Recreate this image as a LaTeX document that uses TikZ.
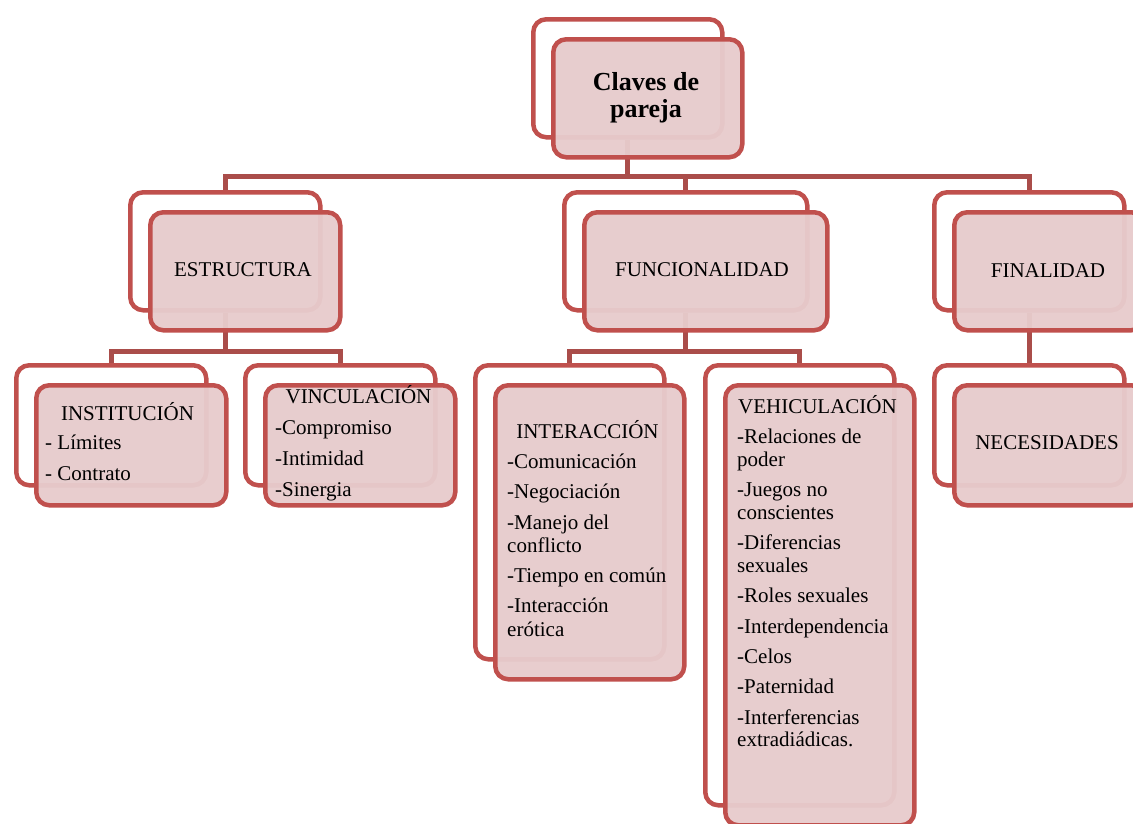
\documentclass[tikz,border=0pt]{standalone}
\usepackage{fontspec}
\setmainfont{Liberation Serif}
\usetikzlibrary{calc}
\pgfdeclarelayer{bg}
\pgfsetlayers{bg,main}
\definecolor{bord}{HTML}{C0504D}
\definecolor{connc}{HTML}{AA4D4A}
\definecolor{pinkf}{HTML}{E7CBCC}
\tikzset{
  backbox/.style={draw=bord, line width=4.5pt, rounded corners=13pt, fill=white, anchor=north west, inner sep=0pt},
  frontbox/.style={draw=bord, line width=4.5pt, rounded corners=13pt, fill=pinkf, fill opacity=0.96, anchor=north west, inner sep=0pt},
  conn/.style={draw=connc, line width=5pt},
  txt/.style={font=\fontsize{21}{23}\selectfont, inner sep=0pt, text=black},
  ttlf/.style={font=\fontsize{26}{28}\selectfont\bfseries, inner sep=0pt, text=black}
}
\newcommand\pairbox[5]{%
  \node[backbox, minimum width=#4pt, minimum height=#5pt] (#1b) at (#2,#3) {};
  \node[frontbox, minimum width=#4pt, minimum height=#5pt] (#1) at ({#2+20},{#3+20}) {};}
\newcommand\tline[4]{\node[txt, anchor=base west] (#1) at (#2,#3) {#4};}
\newcommand\tcent[4]{\node[txt, anchor=base] (#1) at (#2,#3) {#4};}
\begin{document}
\begin{tikzpicture}[x=1pt,y=-1pt]
\useasboundingbox (0,0) rectangle (1133,823);
% boxes
\pairbox{root}{531}{17}{189}{118}
\pairbox{est}{128}{190}{190}{118}
\pairbox{func}{562}{190}{243}{118}
\pairbox{fin}{932}{190}{190}{118}
\pairbox{nec}{932}{363}{190}{120}
\pairbox{ins}{14}{363}{190}{120}
\pairbox{vin}{243}{363}{190}{120}
\pairbox{inter}{473}{363}{189}{294}
\pairbox{veh}{703}{363}{189}{440}
% connectors
\begin{pgfonlayer}{bg}
\path (rootb.south) ++(0,37) coordinate (bus1);
\draw[conn] (rootb.south) -- (bus1);
\draw[conn] (estb.north) |- (bus1) -| (finb.north);
\draw[conn] (funcb.north) |- (bus1);
\path (estb.south) ++(0,39) coordinate (bus2);
\draw[conn] (estb.south) -- (bus2);
\draw[conn] (insb.north) |- (bus2) -| (vinb.north);
\path (funcb.south) ++(0,39) coordinate (bus3);
\draw[conn] (funcb.south) -- (bus3);
\draw[conn] (interb.north) |- (bus3) -| (vehb.north);
\draw[conn] (finb.south) -- (necb.north);
\end{pgfonlayer}
% texts
\node[ttlf, anchor=base] (t0a) at (646,90) {Claves de};
\node[ttlf, anchor=base] (t0b) at (646,117) {pareja};
\tcent{t1}{243}{276}{ESTRUCTURA}
\tcent{t2}{702}{276}{FUNCIONALIDAD}
\tcent{t3}{1048}{277}{FINALIDAD}
\tcent{t4}{1047}{449}{NECESIDADES}
\tcent{ti}{127.5}{420}{INSTITUCIÓN}
\tline{ti1}{45}{449}{- Límites}
\tline{ti2}{45}{480}{- Contrato}
\tcent{tv}{358.5}{403}{VINCULACIÓN}
\tline{tv1}{275}{434}{-Compromiso}
\tline{tv2}{275}{465}{-Intimidad}
\tline{tv3}{275}{496}{-Sinergia}
\tcent{tn}{587.5}{438}{INTERACCIÓN}
\tline{tn1}{507}{468}{-Comunicación}
\tline{tn2}{507}{498}{-Negociación}
\tline{tn3}{507}{529}{-Manejo del}
\tline{tn4}{507}{552}{conflicto}
\tline{tn5}{507}{582}{-Tiempo en común}
\tline{tn6}{507}{612}{-Interacción}
\tline{tn7}{507}{636}{erótica}
\tcent{th}{817.5}{413}{VEHICULACIÓN}
\tline{th1}{737}{443}{-Relaciones de}
\tline{th2}{737}{466}{poder}
\tline{th3}{737}{496}{-Juegos no}
\tline{th4}{737}{519}{conscientes}
\tline{th5}{737}{549}{-Diferencias}
\tline{th6}{737}{572}{sexuales}
\tline{th7}{737}{602}{-Roles sexuales}
\tline{th8}{737}{633}{-Interdependencia}
\tline{th9}{737}{663}{-Celos}
\tline{th10}{737}{693}{-Paternidad}
\tline{th11}{737}{724}{-Interferencias}
\tline{th12}{737}{746}{extradiádicas.}
\end{tikzpicture}
\end{document}
